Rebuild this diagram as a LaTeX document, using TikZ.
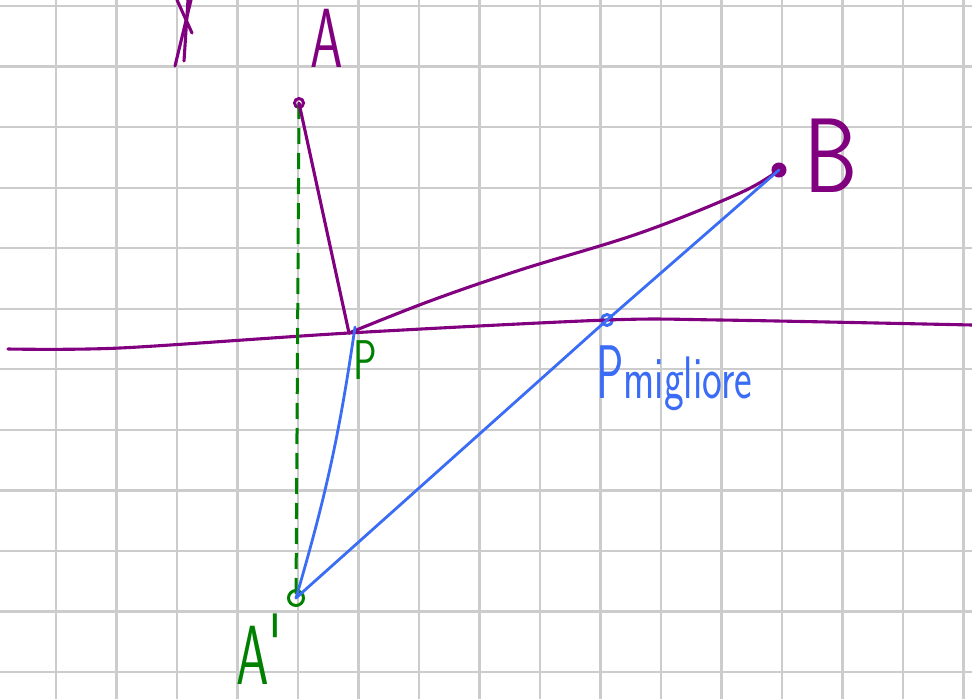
\documentclass[tikz,border=0pt]{standalone}
\usepackage{fontspec}
\usetikzlibrary{positioning}
\definecolor{gridgray}{RGB}{204,204,204}
\definecolor{inkpurple}{RGB}{128,0,128}
\definecolor{inkblue}{RGB}{58,108,245}
\definecolor{inkgreen}{RGB}{0,128,0}
\newcommand{\handfont}[1]{\sffamily\fontsize{#1}{#1}\selectfont}

\begin{document}
\begin{tikzpicture}[
  x=1pt,y=-1pt,
  gridline/.style={draw=gridgray,line width=2.2pt},
  purpleline/.style={draw=inkpurple,line width=3.1pt,line cap=round,line join=round},
  blueline/.style={draw=inkblue,line width=2.8pt,line cap=round,line join=round},
  greendash/.style={draw=inkgreen,line width=3pt,dash pattern=on 16pt off 9pt},
  dot/.style={circle,line width=3pt,inner sep=0pt,minimum size=9pt},
  lbl/.style={inner sep=0pt},
]
  \fill[white] (0,0) rectangle (972,699);
  \useasboundingbox (0,0) rectangle (972,699);
  % grid paper
  \foreach \gx in {0,...,15}
    \draw[gridline] ({56+60.5*\gx},0) -- ({56+60.5*\gx},699);
  \foreach \gy in {0,...,11}
    \draw[gridline] (0,{6+60.55*\gy}) -- (972,{6+60.55*\gy});

  % points
  \node[dot,draw=inkpurple] (A) at (299,103) {};
  \node[dot,draw=inkpurple,fill=inkpurple,minimum size=12pt] (B) at (779,170) {};
  \coordinate (P) at (349,333);
  \node[dot,draw=inkblue,minimum size=11pt] (Pm) at (607,320) {};
  \node[dot,draw=inkgreen,minimum size=15pt] (Ap) at (296,598) {};
  \coordinate (Lend) at (8,349);
  \coordinate (Rend) at (972,325);

  % mirror line
  \draw[purpleline] plot[smooth,tension=0.5] coordinates
    {(Lend) (120,348) (P) (Pm) (720,320) (Rend)};

  % green dashed line A -- A'
  \draw[greendash] (A.center) -- (Ap.center);

  % path through P
  \draw[purpleline] (A.center) -- (P);
  \draw[purpleline] plot[smooth,tension=0.6] coordinates
    {(P) (430,301) (520,270) (640,233) (740,193) (B.center)};
  \draw[blueline] (Ap.center) to[bend right=4] ([xshift=6pt,yshift=6pt]P);

  % best path
  \draw[blueline] (Ap.center) -- (Pm.center) -- (B.center);

  % cut-off letter at the top
  \draw[purpleline] (175,66) -- (191,0);
  \draw[purpleline] (184,61) -- (188,0);
  \draw[purpleline] (177,0) -- (192,33);

  % labels
  \node[lbl,text=inkpurple,font=\handfont{84}] (labA) at (327,38) {\scalebox{0.62}[1]{A}};
  \node[lbl,text=inkpurple,font=\handfont{106}] (labB) at (831,156) {\scalebox{0.8}[1]{B}};
  \node[lbl,text=inkgreen,font=\handfont{84},anchor=base west] (labAp) at (236,684)
    {\scalebox{0.62}[1]{A\raisebox{0.12em}{\textquotesingle}}};
  \node[lbl,text=inkgreen,font=\handfont{56}] (labP) at (365,360) {\scalebox{0.7}[1]{P}};
  \node[lbl,text=inkblue,font=\handfont{76},anchor=base west] (labPm) at (596,398)
    {\scalebox{0.6}[1]{P}\scalebox{0.7}[1]{\handfont{60}migliore}};
\end{tikzpicture}
\end{document}
